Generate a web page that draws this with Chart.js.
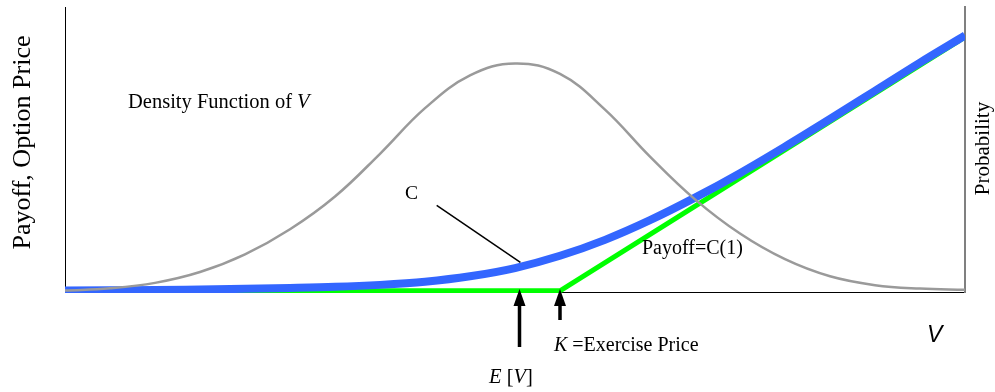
<!DOCTYPE html>
<html lang="en">
<head>
<meta charset="utf-8">
<title>Payoff, Option Price</title>
<script src="https://cdn.jsdelivr.net/npm/chart.js@4.4.1/dist/chart.umd.min.js"></script>
<style>
  html, body { margin: 0; padding: 0; background: #ffffff; }
  canvas { display: block; }
</style>
</head>
<body>
<canvas id="graficoOpcao" width="995" height="392"></canvas>
<script>
// =============================================
//  Call option: payoff, price C and density of V
// =============================================

// Values of V along the horizontal axis (0 = left axis, 100 = right axis)
const valoresV   = [0, 5, 10, 15, 20, 25, 30, 35, 40, 45, 50, 55, 60, 65, 70, 75, 80, 85, 90, 95, 100];
// Density function of V (right axis, "Probability")
const densidade  = [0.5, 1.3, 3.2, 7, 13.2, 22, 33.5, 48.5, 64.5, 76, 80.2, 76.5, 64, 47.5, 32.5, 20.5, 11.5, 5.5, 2.4, 1.2, 0.8];
// Option price C (left axis)
const precoOpcao = [0.5, 0.6, 0.7, 0.9, 1.1, 1.4, 1.8, 2.5, 3.6, 5.5, 8.4, 12.7, 18.3, 25.2, 33.1, 41.7, 51, 60.7, 70.6, 80.5, 90];
// Payoff = C(1): flat up to K, then linear
const payoffV    = [0, 55, 100];
const payoffY    = [0.4, 0.4, 89.5];

// Markers on the V axis
const VALOR_ESPERADO  = 50.5;   // E[V]
const PRECO_EXERCICIO = 55;     // K
// Leader line from the "C" label to the price curve
const linhaC_V = [41.3, 50.6];
const linhaC_Y = [30.4, 10.4];

const FONTE_SERIF = '"Liberation Serif", "Times New Roman", serif';
const FONTE_SANS  = '"Liberation Sans", Arial, sans-serif';

const pontos = (xs, ys) => xs.map((x, i) => ({ x, y: ys[i] }));

// Draws a run of text pieces, some of them italic
function textoMisto(ctx, partes, x, y, tamanho) {
  let cx = x;
  partes.forEach(([texto, italico]) => {
    ctx.font = `${italico ? "italic " : ""}${tamanho}px ${FONTE_SERIF}`;
    ctx.fillText(texto, cx, y);
    cx += ctx.measureText(texto).width;
  });
}

function seta(ctx, x, yPonta, yBase) {
  ctx.beginPath();
  ctx.moveTo(x, yPonta + 14);
  ctx.lineTo(x, yBase);
  ctx.lineWidth = 3.5;
  ctx.strokeStyle = "#000";
  ctx.stroke();
  ctx.beginPath();
  ctx.moveTo(x, yPonta);
  ctx.lineTo(x - 6, yPonta + 17);
  ctx.lineTo(x + 6, yPonta + 17);
  ctx.closePath();
  ctx.fillStyle = "#000";
  ctx.fill();
}

const anotacoes = {
  id: "anotacoes",
  afterDatasetsDraw(chart) {
    const { ctx, chartArea, scales } = chart;
    const sx = scales.x, sy = scales.y;
    ctx.save();
    ctx.fillStyle = "#000";
    ctx.textAlign = "left";
    ctx.textBaseline = "alphabetic";

    // leader line for C
    ctx.beginPath();
    ctx.moveTo(sx.getPixelForValue(linhaC_V[0]), sy.getPixelForValue(linhaC_Y[0]));
    ctx.lineTo(sx.getPixelForValue(linhaC_V[1]), sy.getPixelForValue(linhaC_Y[1]));
    ctx.lineWidth = 1.5;
    ctx.strokeStyle = "#000";
    ctx.stroke();

    // arrows for E[V] and K
    seta(ctx, sx.getPixelForValue(VALOR_ESPERADO), chartArea.bottom - 3, 347);
    seta(ctx, sx.getPixelForValue(PRECO_EXERCICIO), chartArea.bottom - 3, 320);

    ctx.fillStyle = "#000";
    textoMisto(ctx, [["Density Function of ", false], ["V", true]], 128, 108, 20.5);
    textoMisto(ctx, [["C", false]], 405, 199, 19.5);
    textoMisto(ctx, [["Payoff=C(1)", false]], 642, 254, 20);
    textoMisto(ctx, [["K", true], [" =Exercise Price", false]], 554, 351, 20);
    textoMisto(ctx, [["E", true], [" [", false], ["V", true], ["]", false]], 489, 383, 20.5);

    ctx.font = `italic 23px ${FONTE_SANS}`;
    ctx.fillText("V", 927, 342);

    // axis titles, both read bottom to top
    ctx.font = `26px ${FONTE_SERIF}`;
    ctx.textAlign = "center";
    ctx.save();
    ctx.translate(30, 142.5);
    ctx.rotate(-Math.PI / 2);
    ctx.fillText("Payoff, Option Price", 0, 0);
    ctx.restore();

    ctx.font = `21px ${FONTE_SERIF}`;
    ctx.save();
    ctx.translate(989, 148.5);
    ctx.rotate(-Math.PI / 2);
    ctx.fillText("Probability", 0, 0);
    ctx.restore();

    ctx.restore();
  },
};

// axes carry only their line, no space for ticks
const semEspaco = escala => {
  if (escala.isHorizontal()) escala.height = 0;
  else escala.width = 0;
};

const canvas = document.getElementById("graficoOpcao");

new Chart(canvas, {
  type: "line",
  data: {
    datasets: [
      {
        label:       "Density Function of V",
        data:        pontos(valoresV, densidade),
        yAxisID:     "y2",
        borderColor: "#9a9a9a",
        borderWidth: 2.5,
        pointRadius: 0,
        tension:     0.4,
        order:       0,
      },
      {
        label:       "C",
        data:        pontos(valoresV, precoOpcao),
        yAxisID:     "y",
        borderColor: "#3366ff",
        borderWidth: 8,
        pointRadius: 0,
        cubicInterpolationMode: "monotone",
        order:       1,
      },
      {
        label:       "Payoff=C(1)",
        data:        pontos(payoffV, payoffY),
        yAxisID:     "y",
        borderColor: "#00ff00",
        borderWidth: 5,
        pointRadius: 0,
        tension:     0,
        order:       2,
      },
    ],
  },
  options: {
    responsive: false,
    animation:  false,
    layout: { padding: { left: 65, right: 30, top: 7, bottom: 100 } },
    datasets: { line: { clip: { left: 0, right: 0, top: 6, bottom: 1 } } },
    plugins: {
      legend:  { display: false },
      tooltip: { enabled: false },
    },
    scales: {
      x: {
        type: "linear",
        min: 0,
        max: 100,
        afterFit: semEspaco,
        ticks:  { display: false },
        grid:   { display: false },
        border: { color: "#000", width: 1 },
      },
      y: {
        position: "left",
        min: 0,
        max: 100,
        afterFit: semEspaco,
        ticks:  { display: false },
        grid:   { display: false },
        border: { color: "#000", width: 1 },
      },
      y2: {
        position: "right",
        min: 0,
        max: 100,
        afterFit: semEspaco,
        ticks:  { display: false },
        grid:   { display: false },
        border: { color: "#808080", width: 2 },
      },
    },
  },
  plugins: [anotacoes],
});
</script>
</body>
</html>
